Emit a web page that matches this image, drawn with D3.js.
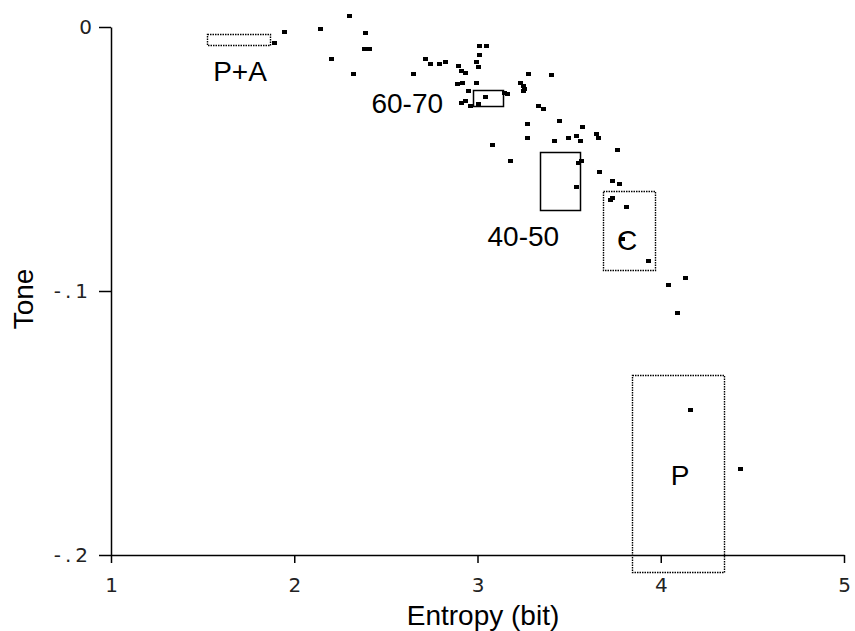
<!DOCTYPE html>
<html><head><meta charset="utf-8">
<script src="https://cdn.jsdelivr.net/npm/d3@7"></script>
<style>body{margin:0;background:#fff}svg{display:block}.tk{font-family:"DejaVu Sans",sans-serif;font-size:20px;fill:#222}</style>
</head><body>
<script>
const entropy = [1.891,1.947,2.141,2.299,2.388,2.386,2.408,2.203,2.323,2.652,3.010,3.050,3.010,2.996,3.004,2.717,2.741,2.792,2.828,2.899,2.910,2.933,2.892,2.919,2.996,2.950,2.914,2.932,2.963,3.007,3.046,3.145,3.161,3.281,3.405,3.237,3.250,3.255,3.250,3.332,3.361,3.274,3.274,3.450,3.574,3.419,3.499,3.538,3.563,3.650,3.661,3.764,3.083,3.182,3.551,3.569,3.540,3.668,3.738,3.775,3.727,3.736,3.814,3.789,3.932,4.136,4.041,4.092,4.165,4.434];
const tone = [-0.00595,-0.00201,-0.00087,0.00417,-0.00227,-0.00845,-0.00845,-0.01223,-0.0178,-0.0178,-0.00708,-0.00708,-0.01061,-0.01314,-0.01527,-0.01212,-0.01413,-0.01413,-0.01314,-0.01466,-0.01667,-0.01731,-0.02159,-0.02121,-0.02121,-0.02413,-0.0289,-0.02803,-0.03004,-0.02928,-0.0264,-0.02489,-0.02538,-0.0178,-0.01818,-0.0211,-0.02235,-0.02348,-0.02436,-0.02992,-0.03106,-0.03663,-0.04216,-0.03549,-0.03777,-0.04318,-0.04216,-0.04129,-0.04318,-0.04064,-0.04216,-0.04678,-0.0447,-0.05083,-0.0514,-0.05083,-0.06049,-0.05492,-0.05852,-0.05955,-0.06553,-0.06466,-0.06818,-0.0803,-0.08864,-0.09519,-0.09773,-0.10845,-0.14508,-0.16754];

const regionNames = ["P+A","60-70","40-50","C","P"];
const regionX0 = [1.5255,2.977,3.343,3.686,3.845];
const regionX1 = [1.8677,3.139,3.563,3.969,4.347];
const regionY0 = [-0.00277,-0.02386,-0.04723,-0.06212,-0.13193];
const regionY1 = [-0.00708,-0.02992,-0.06932,-0.09216,-0.20644];
const regionDotted = [true,false,false,true,true];
const labelX = [1.704,2.812,3.250,3.816,4.105];
const labelY = [-0.02045,-0.03258,-0.08295,-0.08447,-0.17348];
const labelAnchor = ["middle","end","middle","middle","middle"];

const xTicks = [1,2,3,4,5];
const xTickLabels = ["1","2","3","4","5"];
const yTicks = [0,-0.1,-0.2];
const yTickLabels = ["0","-.1","-.2"];

const W = 855, H = 631;
const svg = d3.select("body").append("svg").attr("width",W).attr("height",H);
const x = d3.scaleLinear().domain([1,5]).range([111,844]);
const y = d3.scaleLinear().domain([-0.2,0]).range([555,27]);

// axes
const xAxis = d3.axisBottom(x).tickValues(xTicks).tickFormat((d,i)=>xTickLabels[i]).tickSize(8).tickSizeOuter(0);
const gx = svg.append("g").attr("transform","translate(0,555)").call(xAxis);
gx.attr("font-size",null).attr("font-family",null);
gx.select(".domain").attr("stroke","#000").attr("stroke-width",1.5);
gx.selectAll(".tick line").attr("stroke","#000").attr("stroke-width",1.5);
gx.selectAll(".tick text").attr("class","tk").attr("fill",null).attr("y",30).attr("dy","0.35em");

const yAxis = d3.axisLeft(y).tickValues(yTicks).tickFormat((d,i)=>yTickLabels[i]).tickSize(12).tickSizeOuter(0);
const gy = svg.append("g").attr("transform","translate(111,0)").call(yAxis);
gy.attr("font-size",null).attr("font-family",null);
gy.select(".domain").attr("stroke","#000").attr("stroke-width",1.5);
gy.selectAll(".tick line").attr("stroke","#000").attr("stroke-width",1.5);
gy.selectAll(".tick text").attr("class","tk").attr("fill",null)
  .attr("x",-19).style("letter-spacing",(d)=>d===0?"0px":"4px");

// axis titles
svg.append("text").attr("x",483).attr("y",625).attr("text-anchor","middle")
  .attr("font-family","Liberation Sans, Arial, sans-serif").attr("font-size",28).text("Entropy (bit)");
svg.append("text").attr("transform","translate(33,299) rotate(-90)").attr("text-anchor","middle")
  .attr("font-family","Liberation Sans, Arial, sans-serif").attr("font-size",28).text("Tone");

// regions
regionNames.forEach((n,i)=>{
  svg.append("rect")
    .attr("x",Math.round(x(regionX0[i]))+0.5).attr("y",Math.round(y(regionY0[i]))+0.5)
    .attr("width",Math.round(x(regionX1[i])-x(regionX0[i]))).attr("height",Math.round(y(regionY1[i])-y(regionY0[i])))
    .attr("fill","none").attr("stroke","#000")
    .attr("stroke-width",regionDotted[i]?1.4:1.5)
    .attr("stroke-dasharray",regionDotted[i]?"1.5,1":null);
  svg.append("text").attr("x",x(labelX[i])).attr("y",y(labelY[i])).attr("text-anchor",labelAnchor[i])
    .attr("font-family","Liberation Sans, Arial, sans-serif").attr("font-size",28).text(n);
});

// points
svg.append("g").selectAll("rect").data(entropy).join("rect")
  .attr("x",(d)=>Math.round(x(d)-2.5)).attr("y",(d,i)=>Math.round(y(tone[i])-2))
  .attr("width",5).attr("height",4).attr("fill","#000");
</script>
</body></html>
